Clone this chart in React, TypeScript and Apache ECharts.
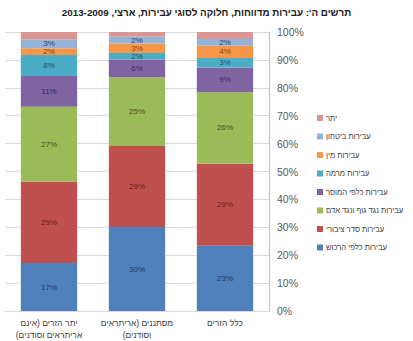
import React, { useEffect, useRef } from "react";
import * as echarts from "echarts";

const RLE = "\u202B";
const PDF = "\u202C";
const rtl = (s: string) => RLE + s + PDF;

const titleText = "תרשים ה': עבירות מדווחות, חלוקה לסוגי עבירות, ארצי, 2013-2009";

const categoryLines: string[][] = [
  ["יתר הזרים (אינם", "אריתראים וסודנים)"],
  ["מסתננים (אריתראים", "וסודנים)"],
  ["כלל הזרים"],
];

const seriesNames = [
  "עבירות כלפי הרכוש",
  "עבירות סדר ציבורי",
  "עבירות נגד גוף ונגד אדם",
  "עבירות כלפי המוסר",
  "עבירות מרמה",
  "עבירות מין",
  "עבירות ביטחון",
  "יתר",
];

const property = [17.2, 30.1, 23.4];
const publicOrder = [29.1, 29.0, 29.4];
const bodily = [26.9, 24.7, 25.6];
const morals = [11.0, 6.3, 8.9];
const fraud = [7.6, 2.4, 3.4];
const sexual = [2.4, 3.4, 4.4];
const security = [3.1, 2.4, 2.4];
const other = [2.7, 1.7, 2.5];

const seriesValues = [property, publicOrder, bodily, morals, fraud, sexual, security, other];

const colors = ["#4F81BD", "#C0504D", "#9BBB59", "#8064A2", "#4BACC6", "#F79646", "#95B3D7", "#D99694"];
const labelColors = ["#1F3A64", "#5A1E1C", "#3F5220", "#3A2A55", "#1F5563", "#8A4206", "#2A3F66", "#6A2A2A"];

const yTicks = { min: 0, max: 100, interval: 10 };

export default function App() {
  const ref = useRef<HTMLDivElement>(null);
  useEffect(() => {
    if (!ref.current) return;
    const chart = echarts.init(ref.current, undefined, { renderer: "svg" });
    const catKeys = categoryLines.map((l) => l.join(" "));
    chart.setOption({
      animation: false,
      backgroundColor: "#ffffff",
      textStyle: { fontFamily: "Liberation Sans, Arial, sans-serif" },
      title: {
        text: rtl(titleText),
        left: "center",
        top: 7,
        padding: 0,
        textStyle: { fontSize: 9.8, fontWeight: "bold", color: "#1a1a1a", fontFamily: "Liberation Sans, Arial, sans-serif" },
      },
      legend: {
        orient: "vertical",
        left: 317,
        top: 112,
        padding: 0,
        icon: "rect",
        itemWidth: 6,
        itemHeight: 6,
        itemGap: 6.5,
        data: seriesNames.slice().reverse(),
        textStyle: { fontSize: 7.6, lineHeight: 12, color: "#404040", padding: [0, 0, 0, -2] },
      },
      grid: { left: 5, right: 144, top: 32, bottom: 27, containLabel: false },
      xAxis: {
        type: "category",
        data: catKeys,
        axisTick: { show: false },
        axisLine: { show: true, lineStyle: { color: "#d9d9d9" } },
        axisLabel: {
          interval: 0,
          margin: 6,
          fontSize: 8.5,
          lineHeight: 12,
          color: "#404040",
          formatter: (v: string) => {
            const idx = catKeys.indexOf(v);
            return categoryLines[idx].map(rtl).join("\n");
          },
        },
      },
      yAxis: {
        type: "value",
        position: "right",
        min: yTicks.min,
        max: yTicks.max,
        interval: yTicks.interval,
        axisLine: { show: true, lineStyle: { color: "#bfbfbf" } },
        axisTick: { show: false },
        splitLine: { lineStyle: { color: "#d9d9d9" } },
        axisLabel: { formatter: "{value}%", fontSize: 10.5, color: "#595959", margin: 8 },
      },
      series: seriesNames.map((name, i) => ({
        name,
        type: "bar",
        stack: "total",
        barWidth: "64%",
        data: seriesValues[i],
        itemStyle: { color: colors[i] },
        label: {
          show: i < 7,
          position: "inside",
          fontSize: 8,
          color: labelColors[i],
          formatter: (p: any) => Math.round(p.value) + "%",
        },
      })),
    });
    return () => chart.dispose();
  }, []);
  return (
    <div
      ref={ref}
      style={{ position: "fixed", left: 0, top: 0, width: 413, height: 341, overflow: "hidden" }}
    />
  );
}
